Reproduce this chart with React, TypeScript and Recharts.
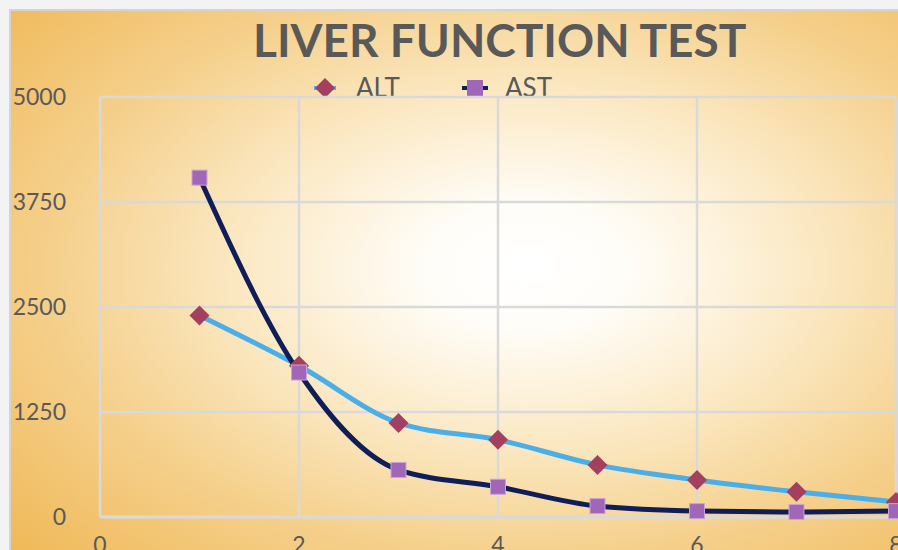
import { LineChart, Line, XAxis, YAxis, CartesianGrid } from "recharts";

const xValues = [1, 2, 3, 4, 5, 6, 7, 8];
const altValues = [2400, 1800, 1120, 920, 620, 440, 300, 180];
const astValues = [4040, 1720, 560, 360, 130, 70, 60, 70];
const yTicks = [0, 1250, 2500, 3750, 5000];
const xTicks = [0, 2, 4, 6, 8];

const data = xValues.map((x, i) => ({ x, alt: altValues[i], ast: astValues[i] }));

const FONT = "Lato, 'Open Sans', sans-serif";
const ALT_LINE = "#4aaee8";
const ALT_MARK = "#a4405f";
const AST_LINE = "#0f1d58";
const AST_MARK = "#a066b8";

const Diamond = (props: any) => {
  const { cx, cy } = props;
  if (cx == null || cy == null) return null;
  const r = 10;
  return <path d={`M${cx},${cy - r}L${cx + r},${cy}L${cx},${cy + r}L${cx - r},${cy}Z`} fill={ALT_MARK} />;
};

const Square = (props: any) => {
  const { cx, cy } = props;
  if (cx == null || cy == null) return null;
  const s = 7.5;
  return <rect x={cx - s} y={cy - s} width={s * 2} height={s * 2} fill={AST_MARK} stroke="#c9a3d8" strokeWidth={1} />;
};

export default function App() {
  return (
    <div style={{ position: "absolute", left: 0, top: 0, width: 898, height: 550, overflow: "hidden", background: "#f3f3f3" }}>
      <div
        style={{
          position: "absolute",
          left: 9,
          top: 9,
          width: 920,
          height: 570,
          border: "2px solid #d4d4d4",
          background:
            "radial-gradient(ellipse at 56% 45%, #ffffff 0%, #fffdf8 14%, #fbe8c2 40%, #f5d08c 65%, #efb54f 100%)",
        }}
      />
      <div
        style={{
          position: "absolute",
          left: 0,
          width: 998,
          top: 14,
          textAlign: "center",
          fontFamily: FONT,
          fontWeight: 700,
          fontSize: 46,
          color: "#595959",
          lineHeight: "52px",
        }}
      >
        <span style={{ position: "absolute", left: 253 }}>LIVER FUNCTION TEST</span>
      </div>
      <svg style={{ position: "absolute", left: 300, top: 70 }} width={280} height={36}>
        <line x1={14} y1={18} x2={36} y2={18} stroke={ALT_LINE} strokeWidth={4} />
        <path d="M25,8L35,18L25,28L15,18Z" fill={ALT_MARK} />
        <text x={56} y={27} fontFamily={FONT} fontSize={26} fill="#595959">ALT</text>
        <line x1={162} y1={18} x2={188} y2={18} stroke={AST_LINE} strokeWidth={4} />
        <rect x={167} y={10} width={16} height={16} fill={AST_MARK} />
        <text x={205} y={27} fontFamily={FONT} fontSize={26} fill="#595959">AST</text>
      </svg>
      <div style={{ position: "absolute", left: 0, top: 0 }}>
        <LineChart width={930} height={580} data={data} margin={{ top: 97, right: 34, left: 0, bottom: 23 }}>
          <CartesianGrid stroke="#d9d9d9" strokeWidth={2.5} verticalPoints={undefined} />
          <XAxis
            dataKey="x"
            type="number"
            domain={[0, 8]}
            ticks={xTicks}
            axisLine={{ stroke: "#d9d9d9", strokeWidth: 3 }}
            tickLine={false}
            tickSize={0}
            tickMargin={20}
            height={40}
            tick={{ fontFamily: FONT, fontSize: 23, fill: "#595959" }}
          />
          <YAxis
            type="number"
            domain={[0, 5000]}
            ticks={yTicks}
            axisLine={false}
            tickLine={false}
            tickSize={0}
            tickMargin={34}
            width={100}
            tick={{ fontFamily: FONT, fontSize: 23, fill: "#595959" }}
          />
          <Line
            type="monotone"
            dataKey="alt"
            stroke={ALT_LINE}
            strokeWidth={5}
            dot={<Diamond />}
            activeDot={false}
            isAnimationActive={false}
          />
          <Line
            type="monotone"
            dataKey="ast"
            stroke={AST_LINE}
            strokeWidth={5}
            dot={<Square />}
            activeDot={false}
            isAnimationActive={false}
          />
        </LineChart>
      </div>
    </div>
  );
}
